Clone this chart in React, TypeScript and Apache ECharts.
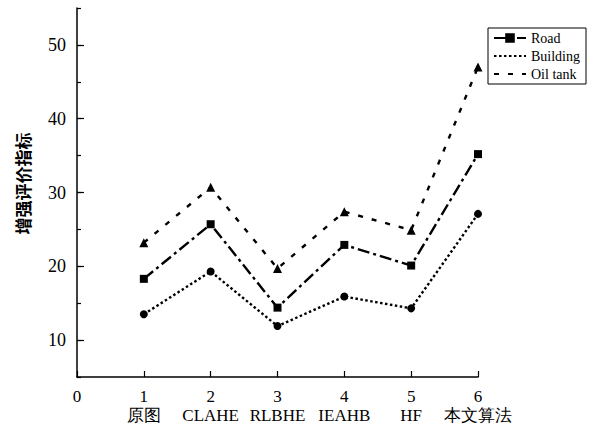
import React, { useEffect, useRef } from 'react';
import * as echarts from 'echarts';

const methods = ['原图', 'CLAHE', 'RLBHE', 'IEAHB', 'HF', '本文算法'];
const road = [18.3, 25.7, 14.4, 22.9, 20.1, 35.2];
const building = [13.5, 19.3, 11.9, 15.9, 14.3, 27.1];
const oilTank = [23.2, 30.7, 19.7, 27.4, 24.9, 47.0];
const yMajorTicks = [10, 20, 30, 40, 50];
const seriesNames = ['Road', 'Building', 'Oil tank'];
const yTitle = '增强评价指标';

const SERIF = 'Times New Roman, Liberation Serif, serif';

export default function App() {
  const ref = useRef<HTMLDivElement>(null);
  useEffect(() => {
    if (!ref.current) return;
    const chart = echarts.init(ref.current, undefined, { renderer: 'svg' });
    const toPts = (arr: number[]) => arr.map((v, i) => [i + 1, v]);
    const axisLine = { show: true, lineStyle: { color: '#000', width: 1.5 } };
    const legendText = { fontFamily: SERIF, fontSize: 14, color: '#000' };
    chart.setOption({
      animation: false,
      backgroundColor: '#fff',
      textStyle: { fontFamily: SERIF },
      grid: { left: 77, right: 121, top: 8, bottom: 54, containLabel: false },
      legend: {
        orient: 'vertical',
        left: 488,
        top: 28,
        padding: [3, 6, 3, 5],
        borderColor: '#000',
        borderWidth: 1,
        itemWidth: 32,
        itemHeight: 12,
        itemGap: 4,
        textStyle: legendText,
        data: [
          { name: 'Road', textStyle: legendText },
          { name: 'Building', itemStyle: { opacity: 0 }, textStyle: legendText },
          { name: 'Oil tank', itemStyle: { opacity: 0 }, textStyle: legendText },
        ],
      },
      xAxis: {
        type: 'value',
        min: 0,
        max: 6,
        interval: 1,
        axisLine,
        splitLine: { show: false },
        axisTick: { show: true, inside: true, length: 6, lineStyle: { color: '#000', width: 1.2 } },
        axisLabel: {
          margin: 10,
          fontFamily: SERIF,
          fontSize: 17,
          color: '#000',
          lineHeight: 19,
          formatter: (v: number) => (v === 0 ? '0' : `${v}\n${methods[v - 1] ?? ''}`),
        },
      },
      yAxis: [
        {
          type: 'value',
          min: 5,
          max: 55,
          interval: 5,
          axisLine,
          splitLine: { show: false },
          axisTick: { show: true, inside: true, length: 4, lineStyle: { color: '#000', width: 1.2 } },
          axisLabel: {
            margin: 11,
            fontFamily: SERIF,
            fontSize: 18,
            color: '#000',
            formatter: (v: number) => (yMajorTicks.includes(v) ? String(v) : ''),
          },
          name: yTitle,
          nameLocation: 'middle',
          nameGap: 46,
          nameRotate: 90,
          nameTextStyle: {
            fontFamily: 'Noto Sans CJK SC, sans-serif',
            fontSize: 17,
            fontWeight: 'bold',
            color: '#000',
            padding: [0, 0, 0, 18],
          },
        },
        {
          type: 'value',
          min: 5,
          max: 55,
          position: 'left',
          axisLine: { show: false },
          splitLine: { show: false },
          axisLabel: { show: false },
          axisTick: {
            show: true,
            inside: true,
            length: 7,
            customValues: yMajorTicks,
            lineStyle: { color: '#000', width: 1.2 },
          },
        },
      ],
      series: [
        {
          name: seriesNames[0],
          type: 'line',
          data: toPts(road),
          symbol: 'rect',
          symbolSize: 8,
          itemStyle: { color: '#000' },
          lineStyle: { color: '#000', width: 2.4, type: [12, 4, 3, 4] },
        },
        {
          name: seriesNames[1],
          type: 'line',
          data: toPts(building),
          symbol: 'circle',
          symbolSize: 8,
          itemStyle: { color: '#000' },
          lineStyle: { color: '#000', width: 2.4, type: [2.5, 2.5] },
        },
        {
          name: seriesNames[2],
          type: 'line',
          data: toPts(oilTank),
          symbol: 'triangle',
          symbolSize: 9,
          itemStyle: { color: '#000' },
          lineStyle: { color: '#000', width: 2.4, type: [5, 9] },
        },
      ],
    });
    return () => chart.dispose();
  }, []);
  return (
    <div
      ref={ref}
      style={{ position: 'fixed', left: 0, top: 0, width: 599, height: 431, background: '#fff' }}
    />
  );
}
